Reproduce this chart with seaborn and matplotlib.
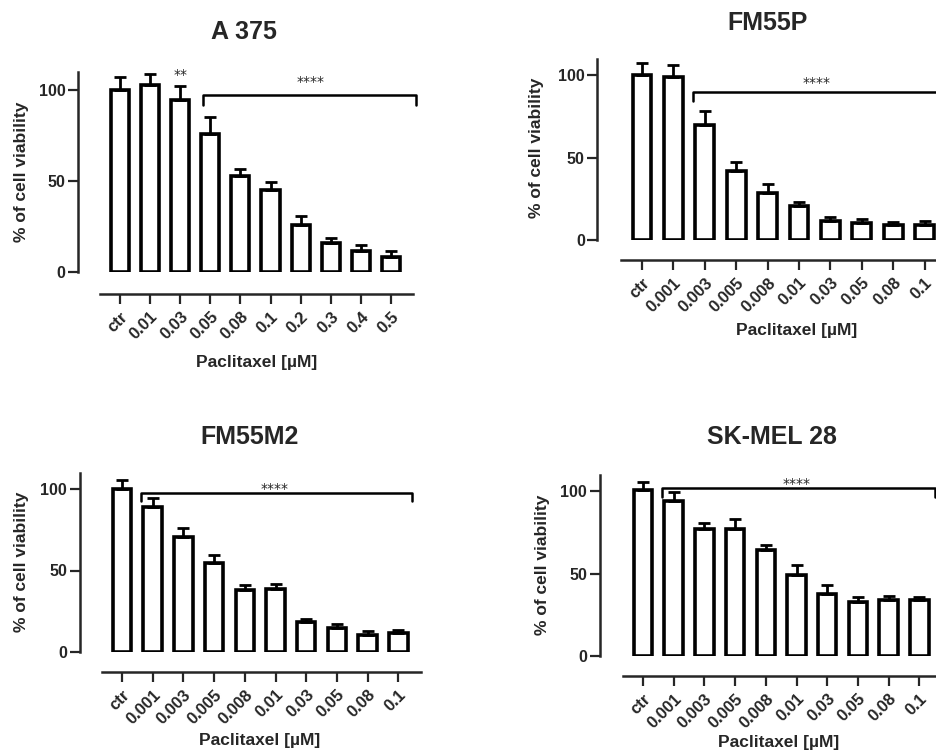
import numpy as np
import pandas as pd
import matplotlib
matplotlib.use("Agg")
import matplotlib.pyplot as plt
import seaborn as sns

# values (mean and upper SD)
doses_a375 = ["ctr", "0.01", "0.03", "0.05", "0.08", "0.1", "0.2", "0.3", "0.4", "0.5"]
doses_low = ["ctr", "0.001", "0.003", "0.005", "0.008", "0.01", "0.03", "0.05", "0.08", "0.1"]

a375_mean = [100, 102.5, 94.5, 76, 52.5, 45, 26, 16, 11.5, 8.3]
a375_err = [7, 6.5, 7.5, 9, 4.3, 4.7, 4.8, 2.5, 3.5, 3.3]

fm55p_mean = [100, 99, 69.7, 41.8, 28.3, 20.6, 11.7, 10.1, 8.9, 8.8]
fm55p_err = [7, 7, 8.7, 5.2, 5.7, 2.5, 2.2, 2.4, 2.2, 2.7]

fm55m2_mean = [100, 89.2, 70.6, 54.8, 38, 38.7, 18.6, 14.7, 10.2, 11.6]
fm55m2_err = [5.8, 5.1, 5.3, 4.7, 2.9, 3, 1.8, 2.5, 2.5, 2.1]

skmel_mean = [100.4, 93.7, 76.8, 76.8, 64.4, 49.1, 37.8, 32.9, 33.7, 33.7]
skmel_err = [4.9, 5.7, 3.6, 6.2, 2.9, 6.1, 5.4, 2.7, 2.7, 2.3]

sns.set_style("ticks")
plt.rcParams["font.family"] = ["Liberation Sans", "DejaVu Sans"]
plt.rcParams["font.weight"] = "bold"

W, H = 936, 752
fig = plt.figure(figsize=(W / 100, H / 100), dpi=100)


def fx(x):
    return x / W


def fy(y):
    return 1 - y / H


def panel(title, labels, mean, err, bar0, step, y0, scale, off_left, off_bottom,
          title_xy, ylab_xy, xlab_xy, bracket, stars_xy, extra=None):
    left = bar0 - 0.66 * step
    right = bar0 + 9.73 * step
    ytop = y0 - 110 * scale
    ax = fig.add_axes([fx(left), fy(y0), (right - left) / W, (y0 - ytop) / H])
    df = pd.DataFrame({"dose": labels, "viability": mean})
    sns.barplot(data=df, x="dose", y="viability", ax=ax, width=0.6,
                color="white", edgecolor="black", linewidth=2.6,
                errorbar=None, saturation=1)
    x = np.arange(len(mean))
    ax.errorbar(x, mean, yerr=[np.zeros(len(err)), err], fmt="none",
                ecolor="black", elinewidth=2, capsize=4, capthick=2, zorder=3)
    ax.set_xlim(-0.66, 9.73)
    ax.set_ylim(0, 110)
    ax.set_yticks([0, 50, 100])
    ax.set_xlabel("")
    ax.set_ylabel("")
    for s in ["top", "right"]:
        ax.spines[s].set_visible(False)
    ax.spines["left"].set_position(("outward", off_left * 0.72))
    ax.spines["bottom"].set_position(("outward", off_bottom * 0.72))
    ax.spines["left"].set_linewidth(1.8)
    ax.spines["bottom"].set_linewidth(1.8)
    ax.tick_params(axis="both", length=7, width=1.6, pad=2)
    ax.tick_params(axis="y", labelsize=11.5)
    ax.set_xticks(x)
    ax.set_xticklabels(labels, rotation=45, ha="right", rotation_mode="anchor",
                       fontweight="bold", fontsize=12)
    for t in ax.get_yticklabels():
        t.set_fontweight("bold")
    ax.tick_params(axis="x", pad=4)
    ax.patch.set_visible(False)

    # significance bracket
    bx0, bx1, by, blow = bracket
    ax.plot([bx0, bx0, bx1, bx1], [blow, by, by, blow], color="black",
            lw=1.8, clip_on=False, zorder=4)
    ax.text(stars_xy[0], stars_xy[1], "****", ha="center", va="center",
            fontsize=10, fontweight="normal", family="DejaVu Sans")
    if extra is not None:
        ax.text(extra[0], extra[1], "**", ha="center", va="center",
                fontsize=10, fontweight="normal", family="DejaVu Sans")

    fig.text(fx(title_xy[0]), fy(title_xy[1]), title, ha="center", va="center",
             fontsize=18, fontweight="bold")
    fig.text(fx(ylab_xy[0]), fy(ylab_xy[1]), "% of cell viability", rotation=90,
             ha="center", va="center", fontsize=12.5, fontweight="bold")
    fig.text(fx(xlab_xy[0]), fy(xlab_xy[1]), "Paclitaxel [\u00b5M]",
             ha="center", va="center", fontsize=12.5, fontweight="bold")
    return ax


panel("A 375", doses_a375, a375_mean, a375_err, 120, 30.1, 272, 1.82, 22, 22,
      (244, 32), (22, 172), (257, 363), (2.75, 9.84, 97, 92), (6.32, 104.6),
      extra=(2.0, 108))
panel("FM55P", doses_low, fm55p_mean, fm55p_err, 642, 31.4, 240, 1.65, 24, 20,
      (768, 23), (537, 148), (797, 330), (1.62, 9.6, 90, 84.4), (5.56, 95))
panel("FM55M2", doses_low, fm55m2_mean, fm55m2_err, 122, 30.7, 652, 1.63, 22, 20,
      (250, 437), (22, 562), (260, 740), (0.62, 9.46, 97.5, 92.8), (4.98, 100))
panel("SK-MEL 28", doses_low, skmel_mean, skmel_err, 643, 30.7, 656, 1.65, 23, 20,
      (772, 437), (542, 565), (779, 743), (0.63, 9.5, 101.6, 96.4), (5.0, 104))

fig.savefig("out.png", dpi=100)
